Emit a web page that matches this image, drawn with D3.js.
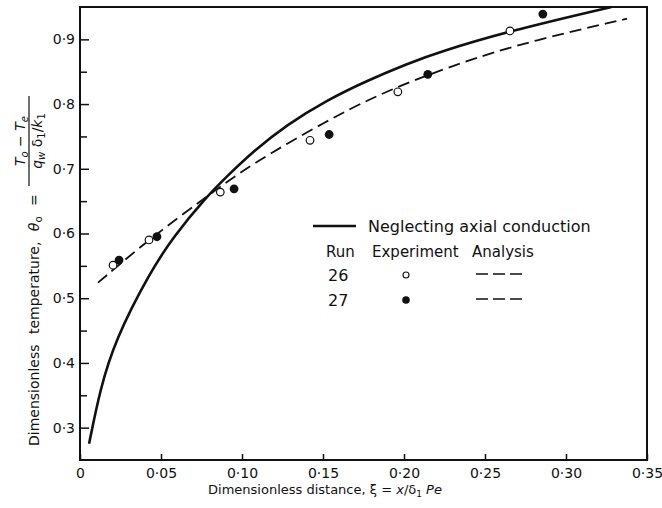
<!DOCTYPE html>
<html>
<head>
<meta charset="utf-8">
<script src="https://cdn.jsdelivr.net/npm/d3@7"></script>
<style>
  body { margin: 0; background: #fff; }
  svg { font-family: "DejaVu Sans", sans-serif; }
  .tick line { stroke: #111; stroke-width: 1.5; }
</style>
</head>
<body>
<script>
var w = 662;
var h = 508;

// x = dimensionless distance, y = dimensionless temperature
var noAxialX = [0.0056, 0.0123, 0.0216, 0.0432, 0.0576, 0.0782, 0.0906, 0.1070, 0.1276, 0.1523, 0.1770, 0.2017, 0.2222, 0.2654, 0.3210, 0.3280];
var noAxialY = [0.275, 0.358, 0.435, 0.540, 0.595, 0.657, 0.688, 0.727, 0.768, 0.806, 0.836, 0.862, 0.881, 0.913, 0.946, 0.950];

var analysisX = [0.0111, 0.0426, 0.0782, 0.1049, 0.1543, 0.1831, 0.2140, 0.2654, 0.3377];
var analysisY = [0.524, 0.591, 0.657, 0.706, 0.777, 0.813, 0.845, 0.890, 0.932];

var run26X = [0.0204, 0.0426, 0.0866, 0.1420, 0.1962, 0.2654];
var run26Y = [0.551, 0.590, 0.664, 0.744, 0.819, 0.913];

var run27X = [0.0241, 0.0475, 0.0951, 0.1538, 0.2147, 0.2857];
var run27Y = [0.559, 0.595, 0.669, 0.753, 0.846, 0.939];

var xTicks = [0, 0.05, 0.10, 0.15, 0.20, 0.25, 0.30, 0.35];
var xTickLabels = ["0", "0·05", "0·10", "0·15", "0·20", "0·25", "0·30", "0·35"];
var yTicks = [0.3, 0.4, 0.5, 0.6, 0.7, 0.8, 0.9];
var yTickLabels = ["0·3", "0·4", "0·5", "0·6", "0·7", "0·8", "0·9"];
var yMinorTicks = [0.35, 0.45, 0.55, 0.65, 0.75, 0.85];

var pL = 80, pR = 647, pT = 7, pB = 460;

var xScale = d3.scaleLinear().domain([0, 0.35]).range([pL, pR]);
var yScale = d3.scaleLinear().domain([0.25, 0.95]).range([pB, pT]);

function zip(xs, ys) {
  return xs.map(function(d, i) { return {x: d, y: ys[i]}; });
}

var svg = d3.select("body")
            .append("svg")
            .attr("width", w)
            .attr("height", h);

// frame
svg.append("rect")
   .attr("x", pL)
   .attr("y", pT)
   .attr("width", pR - pL)
   .attr("height", pB - pT)
   .attr("fill", "none")
   .attr("stroke", "#111")
   .attr("stroke-width", 2);

function styleTicks(g) {
  g.attr("font-family", "DejaVu Sans, sans-serif").attr("font-size", 14);
  g.select(".domain").remove();
  g.selectAll(".tick text").attr("fill", "#111");
}

var xAxis = d3.axisBottom(xScale)
              .tickValues(xTicks)
              .tickSize(-6)
              .tickPadding(8)
              .tickFormat(function(d, i) { return xTickLabels[i]; });

svg.append("g")
   .attr("transform", "translate(0," + pB + ")")
   .call(xAxis)
   .call(styleTicks);

var yAxis = d3.axisLeft(yScale)
              .tickValues(yTicks)
              .tickSize(-9)
              .tickPadding(6)
              .tickFormat(function(d, i) { return yTickLabels[i]; });

svg.append("g")
   .attr("transform", "translate(" + pL + ",0)")
   .call(yAxis)
   .call(styleTicks)
   .call(function(g) { g.selectAll(".tick text").attr("dx", "1"); });

svg.append("g")
   .attr("transform", "translate(" + pL + ",0)")
   .call(d3.axisLeft(yScale).tickValues(yMinorTicks).tickSize(-7).tickFormat(""))
   .call(styleTicks);

var line = d3.line()
             .x(function(d) { return xScale(d.x); })
             .y(function(d) { return yScale(d.y); })
             .curve(d3.curveBasis);

// Neglecting axial conduction
svg.append("path")
   .datum(zip(noAxialX, noAxialY))
   .attr("d", line)
   .attr("fill", "none")
   .attr("stroke", "#111")
   .attr("stroke-width", 2.6);

// Analysis
svg.append("path")
   .datum(zip(analysisX, analysisY))
   .attr("d", line)
   .attr("fill", "none")
   .attr("stroke", "#111")
   .attr("stroke-width", 1.8)
   .attr("stroke-dasharray", "12,6");

// Run 26 (open)
svg.selectAll("run26")
   .data(zip(run26X, run26Y))
   .enter()
   .append("circle")
   .attr("cx", function(d) { return xScale(d.x); })
   .attr("cy", function(d) { return yScale(d.y); })
   .attr("r", 3.8)
   .attr("fill", "#fff")
   .attr("stroke", "#111")
   .attr("stroke-width", 1.2);

// Run 27 (filled)
svg.selectAll("run27")
   .data(zip(run27X, run27Y))
   .enter()
   .append("circle")
   .attr("cx", function(d) { return xScale(d.x); })
   .attr("cy", function(d) { return yScale(d.y); })
   .attr("r", 4.4)
   .attr("fill", "#111");

// Legend
var lg = svg.append("g").attr("font-size", 16).attr("fill", "#111");
lg.append("line").attr("x1", 313).attr("x2", 356).attr("y1", 226).attr("y2", 226)
  .attr("stroke", "#111").attr("stroke-width", 2.4);
lg.append("text").attr("x", 368).attr("y", 232).text("Neglecting axial conduction");
lg.append("text").attr("x", 326).attr("y", 257).attr("font-size", 15).text("Run");
lg.append("text").attr("x", 372).attr("y", 257).attr("font-size", 15).text("Experiment");
lg.append("text").attr("x", 472).attr("y", 257).attr("font-size", 15).text("Analysis");
lg.append("text").attr("x", 328).attr("y", 281).text("26");
lg.append("text").attr("x", 328).attr("y", 306).text("27");
lg.append("circle").attr("cx", 406).attr("cy", 275).attr("r", 3)
  .attr("fill", "#fff").attr("stroke", "#111").attr("stroke-width", 1.1);
lg.append("circle").attr("cx", 406).attr("cy", 300).attr("r", 3.8).attr("fill", "#111");
[274, 299].forEach(function(y) {
  lg.append("line").attr("x1", 476).attr("x2", 522).attr("y1", y).attr("y2", y)
    .attr("stroke", "#111").attr("stroke-width", 1.5).attr("stroke-dasharray", "12,5");
});

// x label
var xl = svg.append("text")
            .attr("x", 325)
            .attr("y", 494)
            .attr("text-anchor", "middle")
            .attr("font-size", 13)
            .attr("fill", "#111");
xl.append("tspan").text("Dimensionless  distance,  ξ = ");
xl.append("tspan").attr("font-style", "italic").text("x");
xl.append("tspan").text("/δ");
xl.append("tspan").attr("font-size", 9).attr("dy", 3).text("1");
xl.append("tspan").attr("dy", -3).attr("font-style", "italic").text(" Pe");

// y label
var yl = svg.append("g")
            .attr("transform", "rotate(-90)")
            .attr("fill", "#111");
var yt = yl.append("text")
           .attr("x", -446)
           .attr("y", 39)
           .attr("font-size", 14)
           .attr("word-spacing", 6);
yt.append("tspan").text("Dimensionless  temperature, ");
yt.append("tspan").attr("font-style", "italic").text("θ");
yt.append("tspan").attr("font-size", 10).attr("dy", 3).text("o");
yt.append("tspan").attr("dy", -3).text(" =");

yl.append("line")
  .attr("x1", -186).attr("x2", -96)
  .attr("y1", 29).attr("y2", 29)
  .attr("stroke", "#111").attr("stroke-width", 1.2);

var num = yl.append("text")
            .attr("x", -141).attr("y", 25)
            .attr("text-anchor", "middle")
            .attr("font-size", 14)
            .attr("font-style", "italic");
num.append("tspan").text("T");
num.append("tspan").attr("font-size", 10).attr("dy", 3).text("o");
num.append("tspan").attr("dy", -3).attr("font-style", "normal").text(" − ");
num.append("tspan").text("T");
num.append("tspan").attr("font-size", 10).attr("dy", 3).text("e");

var den = yl.append("text")
            .attr("x", -141).attr("y", 42)
            .attr("text-anchor", "middle")
            .attr("font-size", 14)
            .attr("font-style", "italic");
den.append("tspan").text("q");
den.append("tspan").attr("font-size", 10).attr("dy", 3).text("w");
den.append("tspan").attr("dy", -3).attr("font-style", "normal").text(" δ");
den.append("tspan").attr("font-size", 10).attr("dy", 3).attr("font-style", "normal").text("1");
den.append("tspan").attr("dy", -3).attr("font-style", "normal").text("/");
den.append("tspan").text("k");
den.append("tspan").attr("font-size", 10).attr("dy", 3).attr("font-style", "normal").text("1");
</script>
</body>
</html>
